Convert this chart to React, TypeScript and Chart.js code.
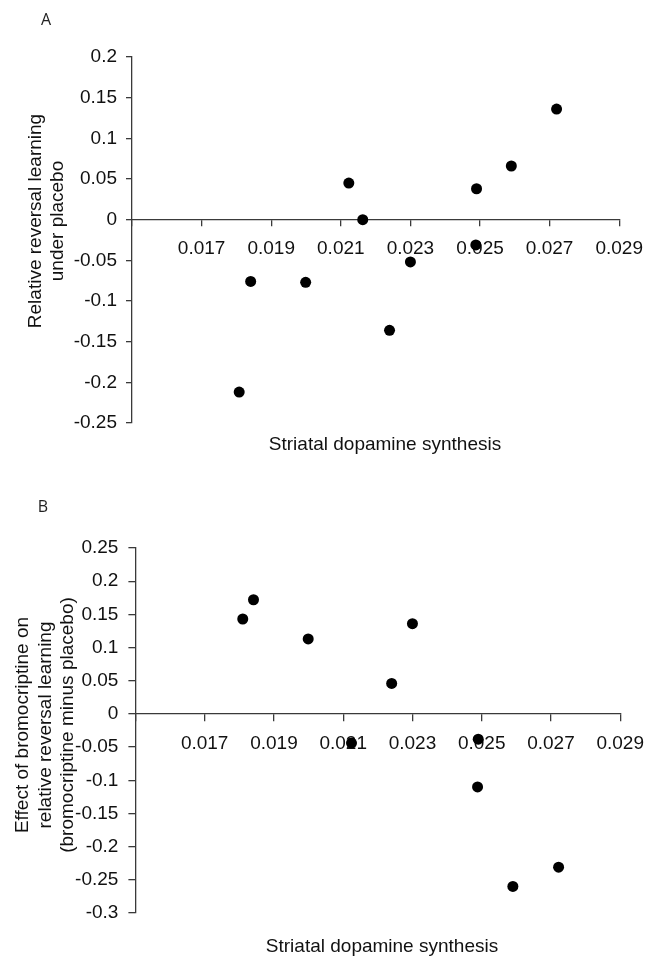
import React, { useEffect, useRef } from 'react';
import { Chart, registerables } from 'chart.js';

Chart.register(...registerables);

// ---- Data ----
const xTickLabels = ['0.017', '0.019', '0.021', '0.023', '0.025', '0.027', '0.029'];

const placeboX = [0.01808, 0.01841, 0.01999, 0.02123, 0.02163, 0.02300, 0.02240, 0.02490, 0.02488, 0.02590, 0.02720];
const placeboY = [-0.212, -0.076, -0.077, 0.045, 0.000, -0.052, -0.136, 0.038, -0.031, 0.066, 0.136];

const effectX = [0.01810, 0.01841, 0.01999, 0.02300, 0.02240, 0.02124, 0.02490, 0.02488, 0.02590, 0.02722];
const effectY = [0.143, 0.172, 0.113, 0.136, 0.046, -0.044, -0.038, -0.110, -0.260, -0.231];

const xTitle = 'Striatal dopamine synthesis';
const yTitleA = ['Relative reversal learning', 'under placebo'];
const yTitleB = ['Effect of bromocriptine on', 'relative reversal learning', '(bromocriptine minus placebo)'];

const FONT = '"Liberation Sans", Arial, Helvetica, sans-serif';
const TEXT = '#111111';
const AXIS = '#3a3a3a';

type PanelProps = {
  letter: string;
  xs: number[];
  ys: number[];
  yMin: number;
  yMax: number;
  yTitle: string[];
  height: number;
  top: number;
  layout: { top: number; bottom: number; right: number; yWidth: number };
  tickLen: number;
  yPad: number;
  xPad: number;
  letterPos: [number, number];
  yTitleXs: number[];
  yTitleCenter: number;
  xTitlePos: [number, number];
};

function Panel(p: PanelProps) {
  const ref = useRef<HTMLCanvasElement | null>(null);
  useEffect(() => {
    if (!ref.current) return;
    const textPlugin = {
      id: 'panelText',
      afterDraw(chart: any) {
        const ctx = chart.ctx as CanvasRenderingContext2D;
        ctx.save();
        ctx.textAlign = 'center';
        ctx.textBaseline = 'middle';
        // panel letter
        ctx.font = '16px "Open Sans", "Noto Sans", sans-serif';
        ctx.fillStyle = '#222';
        ctx.fillText(p.letter, p.letterPos[0], p.letterPos[1]);
        ctx.fillStyle = TEXT;
        // x title
        ctx.font = '19px ' + FONT;
        ctx.fillText(xTitle, p.xTitlePos[0], p.xTitlePos[1]);
        // y title (rotated)
        p.yTitle.forEach((line, i) => {
          ctx.save();
          ctx.translate(p.yTitleXs[i], p.yTitleCenter);
          ctx.rotate(-Math.PI / 2);
          ctx.fillText(line, 0, 0);
          ctx.restore();
        });
        ctx.restore();
      },
    };
    const chart = new Chart(ref.current, {
      type: 'scatter',
      data: {
        datasets: [
          {
            data: p.xs.map((x, i) => ({ x, y: p.ys[i] })),
            backgroundColor: '#000',
            borderColor: '#000',
            pointRadius: 5.5,
            pointHoverRadius: 5.5,
            borderWidth: 0,
          },
        ],
      },
      options: {
        animation: false,
        responsive: false,
        events: [],
        layout: {
          padding: { left: 0, top: p.layout.top, right: p.layout.right, bottom: p.layout.bottom },
        },
        plugins: {
          legend: { display: false },
          tooltip: { enabled: false },
          title: { display: false },
        },
        scales: {
          x: {
            type: 'linear',
            position: { y: 0 } as any,
            min: 0.015,
            max: 0.029,
            ticks: {
              stepSize: 0.002,
              autoSkip: false,
              maxRotation: 0,
              minRotation: 0,
              padding: p.xPad,
              color: TEXT,
              font: { family: FONT, size: 19 },
              callback: (v: any) => {
                const s = Number(v).toFixed(3);
                return xTickLabels.includes(s) ? s : '';
              },
            },
            grid: {
              drawOnChartArea: false,
              drawTicks: true,
              tickLength: p.tickLen,
              color: AXIS,
              lineWidth: 1.3,
            },
            border: { display: true, color: AXIS, width: 1.3 },
          },
          y: {
            type: 'linear',
            position: 'left',
            min: p.yMin,
            max: p.yMax,
            afterFit: (scale: any) => {
              scale.width = p.layout.yWidth;
            },
            ticks: {
              stepSize: 0.05,
              autoSkip: false,
              padding: p.yPad,
              color: TEXT,
              font: { family: FONT, size: 19 },
              callback: (v: any) => String(parseFloat(Number(v).toFixed(3))),
            },
            grid: {
              drawOnChartArea: false,
              drawTicks: true,
              tickLength: p.tickLen,
              color: AXIS,
              lineWidth: 1.3,
            },
            border: { display: true, color: AXIS, width: 1.3 },
          },
        },
      },
      plugins: [textPlugin],
    });
    return () => chart.destroy();
  }, []);
  return (
    <canvas
      ref={ref}
      width={655}
      height={p.height}
      style={{ position: 'absolute', left: 0, top: p.top, width: 655, height: p.height }}
    />
  );
}

export default function App() {
  useEffect(() => {
    document.body.style.margin = '0';
    document.body.style.background = '#ffffff';
  }, []);
  return (
    <div style={{ position: 'relative', width: 655, height: 957, background: '#fff', overflow: 'hidden' }}>
      <Panel
        letter="A"
        xs={placeboX}
        ys={placeboY}
        yMin={-0.25}
        yMax={0.2}
        yTitle={yTitleA}
        height={480}
        top={0}
        layout={{ top: 57, bottom: 57, right: 28, yWidth: 132 }}
        tickLen={6}
        yPad={9}
        xPad={12}
        letterPos={[46, 20]}
        yTitleXs={[36, 58]}
        yTitleCenter={221}
        xTitlePos={[385, 445]}
      />
      <Panel
        letter="B"
        xs={effectX}
        ys={effectY}
        yMin={-0.3}
        yMax={0.25}
        yTitle={yTitleB}
        height={477}
        top={480}
        layout={{ top: 68, bottom: 44, right: 24.3, yWidth: 135.4 }}
        tickLen={7}
        yPad={10}
        xPad={11}
        letterPos={[43, 27]}
        yTitleXs={[23, 45.5, 68]}
        yTitleCenter={245}
        xTitlePos={[382, 467]}
      />
    </div>
  );
}
